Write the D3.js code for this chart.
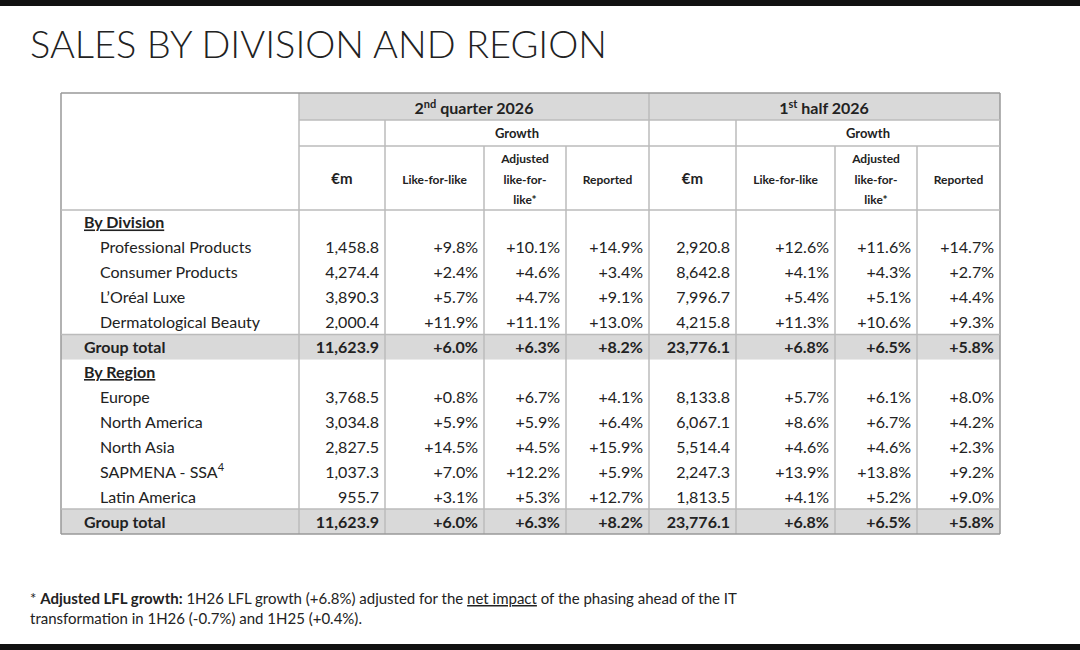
<!DOCTYPE html><html><head><meta charset="utf-8">
<script src="https://cdn.jsdelivr.net/npm/d3@7"></script>
<style>body{margin:0;background:#fff}svg{font-family:Lato,"Noto Sans",sans-serif}</style></head><body>
<svg id="c" width="1080" height="650"></svg>
<script>
const columns = ["€m","Like-for-like","Adjusted like-for-like*","Reported","€m","Like-for-like","Adjusted like-for-like*","Reported"];
const divisions = ["Professional Products","Consumer Products","L’Oréal Luxe","Dermatological Beauty"];
const divisionValues = [
 ["1,458.8","+9.8%","+10.1%","+14.9%","2,920.8","+12.6%","+11.6%","+14.7%"],
 ["4,274.4","+2.4%","+4.6%","+3.4%","8,642.8","+4.1%","+4.3%","+2.7%"],
 ["3,890.3","+5.7%","+4.7%","+9.1%","7,996.7","+5.4%","+5.1%","+4.4%"],
 ["2,000.4","+11.9%","+11.1%","+13.0%","4,215.8","+11.3%","+10.6%","+9.3%"]];
const groupTotal = ["11,623.9","+6.0%","+6.3%","+8.2%","23,776.1","+6.8%","+6.5%","+5.8%"];
const regions = ["Europe","North America","North Asia","SAPMENA - SSA","Latin America"];
const regionValues = [
 ["3,768.5","+0.8%","+6.7%","+4.1%","8,133.8","+5.7%","+6.1%","+8.0%"],
 ["3,034.8","+5.9%","+5.9%","+6.4%","6,067.1","+8.6%","+6.7%","+4.2%"],
 ["2,827.5","+14.5%","+4.5%","+15.9%","5,514.4","+4.6%","+4.6%","+2.3%"],
 ["1,037.3","+7.0%","+12.2%","+5.9%","2,247.3","+13.9%","+13.8%","+9.2%"],
 ["955.7","+3.1%","+5.3%","+12.7%","1,813.5","+4.1%","+5.2%","+9.0%"]];

const svg = d3.select("#c");
const edges = [61,299,385,484,566,649,736,835,917,1000];
const L=61,R=1000,T=93,B=534;
svg.append("rect").attr("x",0).attr("y",0).attr("width",1080).attr("height",6).attr("fill","#111");
svg.append("rect").attr("x",0).attr("y",644).attr("width",1080).attr("height",6).attr("fill","#111");
svg.append("text").attr("x",30).attr("y",58).attr("font-size",38).attr("font-weight",300).attr("fill","#222").text("SALES BY DIVISION AND REGION");

const rows=[];
rows.push({type:"section",label:"By Division"});
divisions.forEach((d,i)=>rows.push({type:"item",label:d,v:divisionValues[i]}));
rows.push({type:"total",label:"Group total",v:groupTotal});
rows.push({type:"section",label:"By Region"});
regions.forEach((d,i)=>rows.push({type:"item",label:d,v:regionValues[i],sup:d.startsWith("SAPMENA")?"4":null}));
rows.push({type:"total",label:"Group total",v:groupTotal});
const y=d3.scaleBand().domain(d3.range(rows.length)).range([210,B]);
const g="#bbb";
svg.append("rect").attr("x",299).attr("y",T).attr("width",R-299).attr("height",27).attr("fill","#d9d9d9");
rows.forEach((r,i)=>{ if(r.type==="total") svg.append("rect").attr("x",L).attr("y",y(i)).attr("width",R-L).attr("height",y.bandwidth()).attr("fill","#d9d9d9");});
const line=(x1,y1,x2,y2,c=g,w=1.5)=>svg.append("line").attr("x1",x1).attr("y1",y1).attr("x2",x2).attr("y2",y2).attr("stroke",c).attr("stroke-width",w);
edges.forEach((x,i)=>{
  if(i===0||i===9) line(x,T,x,B,"#999");
  else if(i===1||i===5) line(x,T,x,B);
  else if(i===2||i===6) line(x,120,x,B);
  else line(x,146,x,B);
});
line(L,T,R,T,"#999");line(L,B,R,B,"#999");
line(299,120,R,120);line(299,146,R,146);line(L,210,R,210);
rows.forEach((r,i)=>{ if(r.type==="total"){line(L,y(i),R,y(i));} });
const hdr=(x,yy,t,s=12)=>svg.append("text").attr("x",x).attr("y",yy).attr("text-anchor","middle").attr("font-size",s).attr("font-weight",700).attr("fill","#222").text(t);
const h1=svg.append("text").attr("x",474).attr("y",114).attr("text-anchor","middle").attr("font-size",16).attr("font-weight",700).attr("fill","#222");
h1.append("tspan").text("2");h1.append("tspan").attr("dy",-6).attr("font-size",11).text("nd");h1.append("tspan").attr("dy",6).text(" quarter 2026");
const h2=svg.append("text").attr("x",824).attr("y",114).attr("text-anchor","middle").attr("font-size",16).attr("font-weight",700).attr("fill","#222");
h2.append("tspan").text("1");h2.append("tspan").attr("dy",-6).attr("font-size",11).text("st");h2.append("tspan").attr("dy",6).text(" half 2026");
hdr((385+649)/2,138,"Growth",13);hdr((736+1000)/2,138,"Growth",13);
columns.forEach((c,i)=>{
  const cx=(edges[i+1]+edges[i+2])/2;
  if(c.startsWith("Adjusted")){hdr(cx,163,"Adjusted");hdr(cx,184,"like-for-");hdr(cx,204,"like*");}
  else if(c==="€m") hdr(cx,184,c,15);
  else hdr(cx,184,c);
});
rows.forEach((r,i)=>{
  const yy=y(i)+y.bandwidth()/2+6;
  if(r.type==="section"){
    svg.append("text").attr("x",84).attr("y",yy).attr("font-size",16).attr("font-weight",700).attr("text-decoration","underline").attr("fill","#222").text(r.label);
    return;
  }
  const bold=r.type==="total";
  const t=svg.append("text").attr("x",bold?84:100).attr("y",yy).attr("font-size",bold?16:16).attr("font-weight",bold?700:400).attr("fill","#222").text(r.label);
  if(r.sup) t.append("tspan").attr("dy",-7).attr("font-size",11).text(r.sup);
  r.v.forEach((v,j)=>svg.append("text").attr("x",edges[j+2]-6).attr("y",yy).attr("text-anchor","end").attr("font-size",16).attr("font-weight",bold?700:400).attr("fill","#222").text(v));
});
const f=svg.append("text").attr("x",30).attr("y",604).attr("font-size",15).attr("fill","#222");
f.append("tspan").text("* ");
f.append("tspan").attr("font-weight",700).text("Adjusted LFL growth:");
f.append("tspan").text(" 1H26 LFL growth (+6.8%) adjusted for the ");
f.append("tspan").attr("text-decoration","underline").text("net impact");
f.append("tspan").text(" of the phasing ahead of the IT");
svg.append("text").attr("x",30).attr("y",624).attr("font-size",15).attr("fill","#222").text("transformation in 1H26 (-0.7%) and 1H25 (+0.4%).");
</script></body></html>
